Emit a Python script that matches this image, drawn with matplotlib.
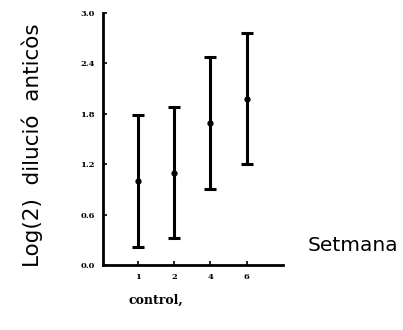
import matplotlib
matplotlib.use("Agg")
import matplotlib.pyplot as plt

categories = ["1", "2", "4", "6"]
means = [1.00, 1.10, 1.69, 1.98]
errors = [0.78, 0.78, 0.78, 0.78]
yticks = [0.0, 0.6, 1.2, 1.8, 2.4, 3.0]

fig = plt.figure(figsize=(4.03, 3.30), dpi=100)
ax = fig.add_axes([0.256, 0.197, 0.446, 0.764])
x = list(range(1, len(categories) + 1))
ax.errorbar(x, means, yerr=errors, fmt='o', color='black', ms=3.5,
            elinewidth=2.2, capsize=4.5, capthick=2.2)
ax.set_xlim(0.05, 5.0)
ax.set_ylim(0.0, 3.0)
ax.set_xticks(x)
ax.set_xticklabels(categories)
ax.set_yticks(yticks)
ax.set_yticklabels([f"{v:.1f}" for v in yticks])
for lab in ax.get_xticklabels() + ax.get_yticklabels():
    lab.set_fontfamily("DejaVu Serif")
    lab.set_fontweight("bold")
    lab.set_fontsize(6)
ax.tick_params(direction='in', length=3, width=1.2, pad=6)
for s in ['top', 'right']:
    ax.spines[s].set_visible(False)
for s in ['left', 'bottom']:
    ax.spines[s].set_linewidth(2.0)

fig.text(0.079, 0.56, "Log(2)  dilució  anticòs", rotation=90, ha='center', va='center',
         fontsize=15.5, family="DejaVu Sans")
fig.text(0.875, 0.255, "Setmana", ha='center', va='center', fontsize=14.5, family="DejaVu Sans")
fig.text(0.386, 0.09, "control,", ha='center', va='center', fontsize=9,
         family="DejaVu Serif", fontweight='bold')
fig.savefig("out.png", dpi=100)
